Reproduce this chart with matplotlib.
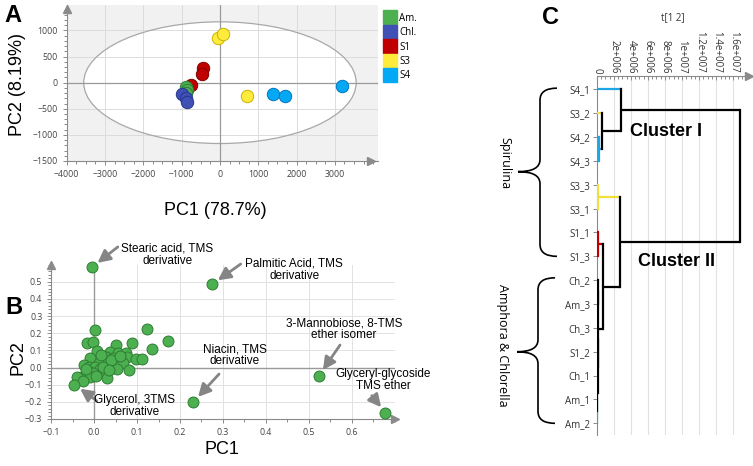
import numpy as np
import matplotlib
matplotlib.use('Agg')
import matplotlib.pyplot as plt
from matplotlib.patches import Ellipse, PathPatch
from matplotlib.path import Path
from matplotlib.lines import Line2D
from matplotlib.ticker import MultipleLocator

W, H = 753, 466

# ---------------- panel A : PCA scores ----------------
groups = ['Am.', 'Chl.', 'S1', 'S3', 'S4']
group_colors = ['#4caf50', '#3f51b5', '#c00000', '#ffeb3b', '#03a9f4']
group_edges = ['#2e7d32', '#283593', '#7f0000', '#c9b400', '#0277bd']
am_pc1 = [-895, -870, -880]
am_pc2 = [-90, -140, -190]
chl_pc1 = [-1000, -890, -870]
chl_pc2 = [-225, -300, -370]
s1_pc1 = [-435, -470, -765]
s1_pc2 = [275, 165, -40]
s3_pc1 = [-60, 70, 700]
s3_pc2 = [860, 930, -255]
s4_pc1 = [1390, 1700, 3175]
s4_pc2 = [-220, -255, -60]

# ---------------- panel B : loadings ----------------
load_pc1 = [0.003, 0.122, 0.173, -0.016, -0.003, 0.089, 0.05, 0.134, 0.007, 0.036,
            0.055, 0.073, -0.009, 0.027, 0.044, 0.077, 0.098, 0.112, 0.011, 0.032,
            0.067, -0.023, -0.012, 0.001, 0.014, 0.052, 0.081, -0.015, -0.002, 0.028,
            -0.03, -0.009, 0.03, -0.041, -0.027, -0.046, 0.005, 0.02, 0.04, -0.018,
            0.06, 0.015, 0.035,
            -0.005, 0.275, 0.231, 0.524, 0.679]
load_pc2 = [0.221, 0.223, 0.156, 0.144, 0.148, 0.144, 0.129, 0.110, 0.096, 0.092,
            0.083, 0.083, 0.058, 0.06, 0.054, 0.06, 0.052, 0.048, 0.029, 0.035,
            0.025, 0.012, 0.006, 0.006, -0.008, -0.01, -0.013, -0.023, -0.029, -0.037,
            -0.056, -0.056, -0.062, -0.056, -0.081, -0.1, -0.052, 0.006, 0.045, -0.01,
            0.07, 0.075, -0.015,
            0.585, 0.485, -0.201, -0.048, -0.263]
# label, point, arrow tail, text centre
notes = [
    ('Stearic acid, TMS\nderivative', (-0.005, 0.585), (0.055, 0.703), (0.17, 0.656)),
    ('Palmitic Acid, TMS\nderivative', (0.275, 0.485), (0.3415, 0.6035), (0.466, 0.571)),
    ('3-Mannobiose, 8-TMS\nether isomer', (0.524, -0.048), (0.573, 0.131), (0.582, 0.224)),
    ('Niacin, TMS\nderivative', (0.231, -0.201), (0.291, -0.038), (0.328, 0.073)),
    ('Glyceryl-glycoside\nTMS ether', (0.679, -0.263), (0.647, -0.164), (0.673, -0.073)),
    ('Glycerol, 3TMS\nderivative', (-0.046, -0.1), (0.006, -0.194), (0.095, -0.224)),
]

# ---------------- panel C : dendrogram ----------------
BLUE, YEL, RED, GRN = '#1ea5e6', '#f2e03a', '#c00000', '#4caf50'
leaves = ['S4_1', 'S3_2', 'S4_2', 'S4_3', 'S3_3', 'S3_1', 'S1_1', 'S1_3',
          'Ch_2', 'Am_3', 'Ch_3', 'S1_2', 'Ch_1', 'Am_1', 'Am_2']
leaf_colors = ['#1ea5e6', '#f2e03a', '#1ea5e6', '#1ea5e6', '#f2e03a', '#f2e03a',
               '#c00000', '#c00000', 'k', 'k', 'k', 'k', 'k', 'k', '#4caf50']
merges = [  # child a, child b, height, colour
    ('S4_2', 'S4_3', 2.7e5, BLUE),   # c1
    ('S3_2', 'c1', 5.8e5, 'k'),      # c2
    ('S4_1', 'c2', 2.8e6, 'k'),      # c3
    ('S3_3', 'S3_1', 2.0e5, YEL),    # c4
    ('S1_1', 'S1_3', 1.5e5, RED),    # c5
    ('Ch_2', 'Am_3', 1.0e5, 'k'),    # c6
    ('Ch_3', 'S1_2', 0.7e5, 'k'),    # c7
    ('Am_1', 'Am_2', 0.5e5, GRN),    # c8
    ('Ch_1', 'c8', 0.8e5, 'k'),      # c9
    ('c7', 'c9', 1.2e5, 'k'),        # c10
    ('c6', 'c10', 2.0e5, 'k'),       # c11
    ('c5', 'c11', 7.8e5, 'k'),       # c12
    ('c4', 'c12', 2.73e6, 'k'),      # c13
    ('c3', 'c13', 1.68e7, 'k'),      # c14
]
dist_ticks = [0, 2e6, 4e6, 6e6, 8e6, 1e7, 1.2e7, 1.4e7, 1.6e7]
dist_labels = ['0', '2e+006', '4e+006', '6e+006', '8e+006', '1e+007',
               '1.2e+007', '1.4e+007', '1.6e+007']

TICKFONT = 'Open Sans'
LABFONT = 'Liberation Sans'


def fx(px):
    return px / W


def fy(py):
    return 1 - py / H


def box(l, t, r, b):
    return [fx(l), fy(b), (r - l) / W, (b - t) / H]


fig = plt.figure(figsize=(W / 100, H / 100), dpi=100)

# ================= A =================
ax = fig.add_axes(box(66.7, 5, 378, 161))
ax.set_xlim(-4000, 4125)
ax.set_ylim(-1500, 1488)
ax.set_facecolor('#f1f1f1')
ax.add_patch(Ellipse((0, 0), 7110, 2330, facecolor='white', edgecolor='none', zorder=0.5))
ax.set_xticks(np.arange(-4000, 3001, 1000))
ax.set_yticks(np.arange(-1500, 1001, 500))
ax.xaxis.set_minor_locator(MultipleLocator(250))
ax.yaxis.set_minor_locator(MultipleLocator(100))
ax.grid(True, color='#dcdcdc', lw=0.7, zorder=1)
ax.set_axisbelow(True)
ax.add_patch(Ellipse((0, 0), 7110, 2330, facecolor='none', edgecolor='#a8a8a8', lw=0.9, zorder=2))
ax.axhline(0, color='#9a9a9a', lw=0.9, zorder=2)
ax.axvline(0, color='#9a9a9a', lw=0.9, zorder=2)
for s in ['top', 'right']:
    ax.spines[s].set_visible(False)
for s in ['left', 'bottom']:
    ax.spines[s].set_color('#8a8a8a')
ax.tick_params(which='both', colors='#8a8a8a', labelcolor='#444444', labelsize=6.3, length=3, width=0.7)
ax.tick_params(which='minor', length=2)
for lab in ax.get_xticklabels() + ax.get_yticklabels():
    lab.set_family(TICKFONT)
ax.plot(3950, -1500, '>', color='#8a8a8a', ms=6, clip_on=False, zorder=5)
ax.plot(-4000, 1420, '^', color='#8a8a8a', ms=6, clip_on=False, zorder=5)

a_data = [(s1_pc1, s1_pc2, 2), (am_pc1, am_pc2, 0), (chl_pc1, chl_pc2, 1),
          (s3_pc1, s3_pc2, 3), (s4_pc1, s4_pc2, 4)]
for xs, ys, i in a_data:
    ax.scatter(xs, ys, s=80, color=group_colors[i], edgecolors=group_edges[i], linewidths=0.7, zorder=4)

handles = [Line2D([], [], marker='s', ls='', ms=10, color=c) for c in group_colors]
ax.legend(handles, groups, loc='upper left', bbox_to_anchor=(fx(378), fy(6)),
          bbox_transform=fig.transFigure, frameon=False,
          handlelength=1.0, handletextpad=0.5, labelspacing=0.35, borderpad=0.2,
          prop={'family': TICKFONT, 'size': 7})

fig.text(fx(18), fy(85), 'PC2 (8.19%)', rotation=90, ha='center', va='center', fontsize=13, family=LABFONT)
fig.text(fx(215), fy(211), 'PC1 (78.7%)', ha='center', va='center', fontsize=13, family=LABFONT)
fig.text(fx(4), fy(16), 'A', ha='left', va='center', fontsize=17, weight='bold', family=LABFONT)

# ================= B =================
bx = fig.add_axes(box(51.3, 264.6, 394.5, 419))
bx.set_xlim(-0.1, 0.7)
bx.set_ylim(-0.3, 0.6)
bx.set_xticks(np.round(np.arange(-0.1, 0.61, 0.1), 1))
bx.set_yticks(np.round(np.arange(-0.3, 0.51, 0.1), 1))
bx.xaxis.set_minor_locator(MultipleLocator(0.05))
bx.yaxis.set_minor_locator(MultipleLocator(0.02))
bx.grid(True, color='#e2e2e2', lw=0.7)
bx.set_axisbelow(True)
for s in ['top', 'right']:
    bx.spines[s].set_visible(False)
for s in ['left', 'bottom']:
    bx.spines[s].set_color('#8a8a8a')
bx.tick_params(which='both', colors='#8a8a8a', labelcolor='#444444', labelsize=6.3, length=3, width=0.7)
bx.tick_params(which='minor', length=2)
for lab in bx.get_xticklabels() + bx.get_yticklabels():
    lab.set_family(TICKFONT)
bx.plot(1, 0, '>', color='#8a8a8a', ms=6, transform=bx.transAxes, clip_on=False)
bx.plot(0, 1, '^', color='#8a8a8a', ms=6, transform=bx.transAxes, clip_on=False)
bx.axhline(0, color='#9a9a9a', lw=1.0, zorder=1.5)
bx.plot([0, 0], [-0.3, load_pc2[-5]], color='#9a9a9a', lw=1.0, zorder=1.5)
bx.scatter(load_pc1, load_pc2, s=62, color='#4caf50', edgecolors='#2e7d32', linewidths=0.7,
           zorder=4, clip_on=False)
for txt, pt, tail, cen in notes:
    bx.annotate('', xy=pt, xytext=tail, annotation_clip=False,
                arrowprops=dict(arrowstyle='-|>,head_length=0.75,head_width=0.38', color='#858585',
                                lw=2, shrinkA=0, shrinkB=5))
    bx.text(cen[0], cen[1], txt, ha='center', va='center', fontsize=8.5, family=LABFONT,
            linespacing=1.0, clip_on=False)

fig.text(fx(18), fy(358), 'PC2', rotation=90, ha='center', va='center', fontsize=13, family=LABFONT)
fig.text(fx(222), fy(449), 'PC1', ha='center', va='center', fontsize=13, family=LABFONT)
fig.text(fx(5), fy(308), 'B', ha='left', va='center', fontsize=17, weight='bold', family=LABFONT)

# ================= C =================
cx = fig.add_axes(box(596.7, 76, 748.7, 435))
cx.set_xlim(0, 1.78e7)
cx.set_ylim(14.49, -0.56)
nodes = {}
for i, name in enumerate(leaves):
    nodes[name] = (i, 0.0, leaf_colors[i])
lw = 1.6
for k, (a, b, h, col) in enumerate(merges):
    ya, ha, ca = nodes[a]
    yb, hb, cb = nodes[b]
    cx.plot([ha, h], [ya, ya], color=ca, lw=lw, solid_capstyle='butt', zorder=3)
    cx.plot([hb, h], [yb, yb], color=cb, lw=lw, solid_capstyle='butt', zorder=3)
    cx.plot([h, h], [ya, yb], color=col, lw=lw, solid_capstyle='projecting', zorder=3)
    nodes['c%d' % (k + 1)] = ((ya + yb) / 2, h, col)

cx.xaxis.tick_top()
cx.set_xticks(dist_ticks)
cx.set_xticklabels(dist_labels, rotation=270, family=TICKFONT, fontsize=7, color='#333333')
cx.xaxis.set_minor_locator(MultipleLocator(5e5))
cx.tick_params(axis='x', which='both', direction='in', colors='#8a8a8a', labelcolor='#333333',
               length=3, width=0.7, pad=2)
cx.tick_params(axis='x', which='minor', length=2)
cx.set_yticks(range(len(leaves)))
cx.set_yticklabels(leaves, family=TICKFONT, fontsize=7, color='#333333')
cx.tick_params(axis='y', colors='#8a8a8a', labelcolor='#333333', length=3, width=0.7, pad=1.5)
for t in dist_ticks[1:]:
    cx.axvline(t, color='#e2e2e2', lw=0.8, zorder=0)
for s in ['bottom', 'right']:
    cx.spines[s].set_visible(False)
for s in ['top', 'left']:
    cx.spines[s].set_color('#8a8a8a')
cx.plot(1, 1, '>', color='#8a8a8a', ms=6, transform=cx.transAxes, clip_on=False)

fig.text(fx(673), fy(18), 't[1 2]', ha='center', va='center', fontsize=7, family=TICKFONT, color='#333333')
fig.text(fx(542), fy(17), 'C', ha='left', va='center', fontsize=17, weight='bold', family=LABFONT)


def xpix(px):
    # figure-pixel x expressed in C data units
    return (px - 596.7) / 152.0 * 1.78e7


cx.text(xpix(630), 1.78, 'Cluster I', ha='left', va='center', fontsize=13, weight='bold',
        family=LABFONT, zorder=5)
cx.text(xpix(638), 7.23, 'Cluster II', ha='left', va='center', fontsize=13, weight='bold',
        family=LABFONT, zorder=5)


def brace(y0, y1, ym, xe, xl, xt, r=0.5):
    verts = [(xe, y0), (xl, y0), (xl, y0 + r),
             (xl, ym - r), (xl, ym), (xt, ym),
             (xl, ym), (xl, ym + r),
             (xl, y1 - r), (xl, y1), (xe, y1)]
    codes = [Path.MOVETO, Path.CURVE3, Path.CURVE3,
             Path.LINETO, Path.CURVE3, Path.CURVE3,
             Path.CURVE3, Path.CURVE3,
             Path.LINETO, Path.CURVE3, Path.CURVE3]
    cx.add_patch(PathPatch(Path(verts, codes), facecolor='none', edgecolor='k', lw=1.2, clip_on=False))


brace(-0.05, 7.0, 3.45, xpix(557), xpix(540), xpix(518))
brace(7.9, 14.0, 11.0, xpix(555), xpix(538), xpix(517))
cx.text(xpix(505), 3.1, 'Spirulina', rotation=270, ha='center', va='center', fontsize=9,
        family=TICKFONT, clip_on=False)
cx.text(xpix(502), 10.75, 'Amphora & Chlorella', rotation=270, ha='center', va='center',
        fontsize=9, family=TICKFONT, clip_on=False)

fig.savefig('out.png', dpi=100)
